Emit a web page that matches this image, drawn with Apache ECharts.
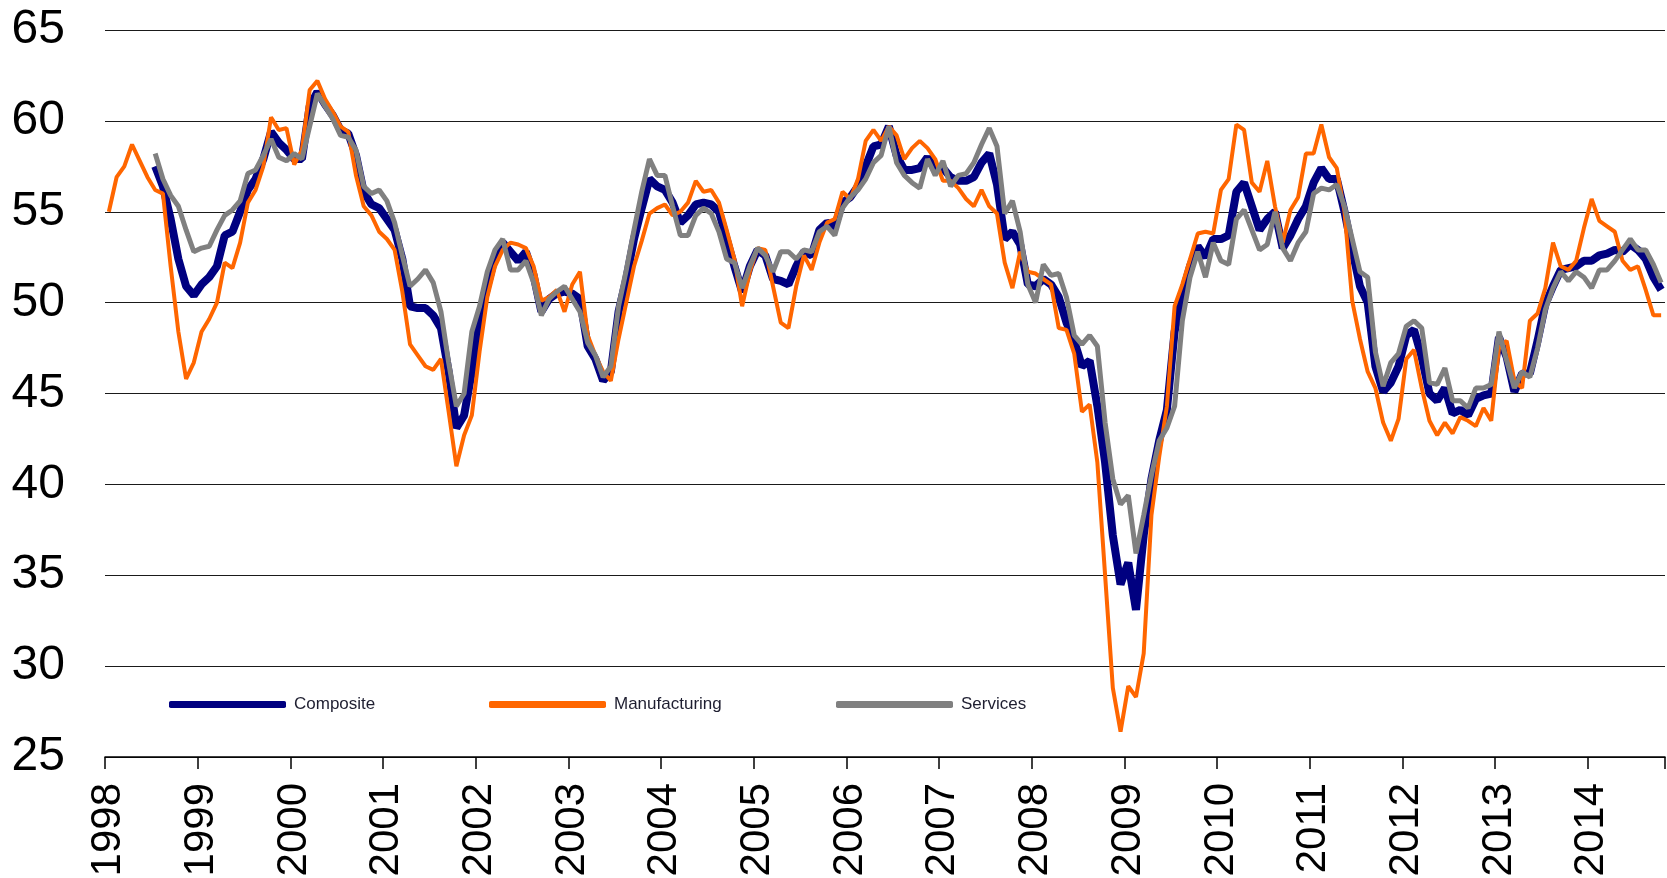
<!DOCTYPE html>
<html>
<head>
<meta charset="utf-8">
<title>PMI</title>
<script src="https://cdn.jsdelivr.net/npm/echarts@6/dist/echarts.min.js"></script>
<style>
  html, body { margin: 0; padding: 0; background: #fff; }
  #chart { width: 1667px; height: 878px; }
</style>
</head>
<body>
<div id="chart"></div>
<script>
// monthly, Jan 1998 .. Oct 2014
const startYear = 1998
const monthCount = 202
const months = []
for (let i = 0; i < monthCount; i++) {
  const y = startYear + Math.floor(i / 12)
  const m = (i % 12) + 1
  months.push(y + '-' + (m < 10 ? '0' + m : m))
}

const composite = [
  null, null, null, null, null, null,
  57.5, 56.4, 54.6, 52.4, 50.9, 50.4, 51.0, 51.4, 52.0, 53.7, 53.9, 55.0,
  56.2, 56.8, 57.9, 59.4, 58.8, 58.4, 57.9, 57.9, 60.8, 61.6, 60.9, 60.3,
  59.5, 59.3, 58.1, 56.1, 55.4, 55.2, 54.6, 54.0, 52.4, 49.8, 49.7, 49.7,
  49.3, 48.6, 46.2, 43.1, 43.8, 46.2, 49.1, 50.9, 52.5, 53.3, 52.8, 52.3,
  52.8, 51.5, 49.5, 50.2, 50.5, 50.6, 50.5, 50.2, 47.6, 46.9, 45.7, 46.2,
  49.5, 51.3, 53.5, 55.2, 56.8, 56.4, 56.2, 55.5, 54.4, 54.8, 55.4, 55.5,
  55.4, 55.0, 53.5, 52.0, 50.6, 52.0, 52.9, 52.6, 51.3, 51.2, 51.0, 52.0,
  52.8, 52.6, 54.0, 54.4, 54.2, 55.5, 55.8, 56.4, 57.5, 58.6, 58.7, 59.7,
  58.1, 57.3, 57.3, 57.4, 58.0, 57.3, 57.4, 56.9, 56.7, 56.7, 56.9, 57.7,
  58.2, 56.5, 53.5, 53.9, 53.2, 51.0, 50.9, 51.3, 51.0, 50.3, 48.9, 47.9,
  46.5, 46.8, 44.3, 41.2, 37.2, 34.5, 35.7, 33.1, 37.2, 40.3, 42.4, 44.1,
  48.4, 50.5, 52.0, 53.1, 52.5, 53.5, 53.5, 53.7, 56.1, 56.6, 55.3, 54.0,
  54.6, 55.0, 53.0, 53.7, 54.6, 55.3, 56.6, 57.4, 56.8, 56.8, 55.0, 52.9,
  50.9, 50.0, 46.5, 45.1, 45.6, 46.5, 48.2, 48.5, 47.0, 45.0, 44.6, 45.3,
  43.9, 44.1, 43.8, 44.7, 44.9, 45.0, 48.1, 47.0, 45.1, 46.1, 46.1, 47.9,
  49.9, 50.9, 51.8, 51.9, 52.0, 52.3, 52.3, 52.6, 52.7, 52.9, 52.8, 53.2,
  52.9, 52.4, 51.4, 50.7
]

const manufacturing = [
  55.0, 56.9, 57.5, 58.7, 57.8, 56.9, 56.2, 56.0, 52.0, 48.4, 45.8, 46.7,
  48.4, 49.1, 50.0, 52.2, 51.9, 53.3, 55.5, 56.2, 57.5, 60.2, 59.5, 59.6,
  57.6, 58.4, 61.7, 62.2, 61.2, 60.5, 59.7, 59.4, 57.0, 55.3, 54.8, 53.9,
  53.5, 52.9, 50.6, 47.7, 47.1, 46.5, 46.3, 46.9, 44.0, 41.0, 42.7, 43.8,
  47.3, 50.3, 52.0, 52.9, 53.3, 53.2, 53.0, 52.0, 50.1, 50.3, 50.7, 49.5,
  51.0, 51.7, 48.2, 47.1, 46.2, 45.7, 48.0, 50.0, 52.0, 53.4, 54.9, 55.2,
  55.4, 54.8, 55.0, 55.5, 56.7, 56.1, 56.2, 55.5, 54.0, 52.4, 49.8, 51.7,
  53.0, 52.9, 50.9, 48.9, 48.6, 50.9, 52.6, 51.8, 53.3, 54.4, 54.6, 56.1,
  55.7, 56.8, 58.9, 59.5, 58.9, 59.7, 59.2, 57.9, 58.5, 58.9, 58.5, 57.9,
  56.7, 56.7, 56.3, 55.7, 55.3, 56.2, 55.3, 54.9, 52.2, 50.8, 52.8, 51.7,
  51.6, 51.3, 51.0, 48.6, 48.5, 47.2, 44.0, 44.4, 41.2, 35.0, 28.8, 26.4,
  28.9, 28.3, 30.7, 38.3, 41.5, 44.3, 49.8, 51.0, 52.4, 53.8, 53.9, 53.8,
  56.2, 56.8, 59.8, 59.5, 56.6, 56.1, 57.8, 55.3, 53.3, 55.1, 55.8, 58.2,
  58.2, 59.8, 58.0, 57.4, 55.0, 50.1, 48.0, 46.2, 45.3, 43.4, 42.4, 43.6,
  46.9, 47.4, 45.3, 43.5, 42.7, 43.4, 42.8, 43.7, 43.5, 43.2, 44.2, 43.5,
  47.5, 47.9, 45.7, 45.3, 49.0, 49.4, 50.8, 53.3, 52.0, 51.8, 52.3, 54.1,
  55.7, 54.5, 54.2, 53.9, 52.3, 51.8, 52.0, 50.7, 49.3, 49.3
]

const services = [
  null, null, null, null, null, null,
  58.2, 56.8, 55.9, 55.3, 54.0, 52.8, 53.0, 53.1, 54.0, 54.8, 55.1, 55.6,
  57.1, 57.3, 58.1, 59.0, 58.0, 57.8, 58.2, 57.9, 59.7, 61.5, 60.8, 60.1,
  59.2, 59.1, 58.4, 56.4, 56.0, 56.2, 55.6, 54.4, 52.6, 50.9, 51.3, 51.8,
  51.1, 49.5, 46.7, 44.3, 45.0, 48.4, 49.8, 51.7, 52.9, 53.5, 51.8, 51.8,
  52.3, 51.1, 49.3, 50.2, 50.6, 50.9, 50.2, 49.5, 47.8, 47.1, 45.9, 46.5,
  49.8, 51.8, 54.0, 56.1, 57.9, 57.0, 57.0, 55.3, 53.7, 53.7, 54.8, 55.2,
  54.9, 53.9, 52.4, 52.2, 50.8, 52.0, 53.0, 52.6, 51.7, 52.8, 52.8, 52.4,
  52.9, 52.8, 53.9, 54.2, 53.7, 55.2, 55.8, 56.2, 56.8, 57.7, 58.1, 59.7,
  57.7, 57.0, 56.6, 56.3, 57.9, 57.0, 57.8, 56.4, 57.0, 57.1, 57.7, 58.7,
  59.6, 58.6, 54.9, 55.6, 53.9, 51.0, 50.0, 52.1, 51.5, 51.6, 50.3, 48.2,
  47.7, 48.2, 47.6, 43.4, 40.3, 38.9, 39.4, 36.2, 38.3, 40.5, 42.4, 43.1,
  44.3, 49.0, 51.4, 52.8, 51.4, 53.3, 52.3, 52.1, 54.6, 55.1, 54.0, 52.9,
  53.2, 55.0, 53.0, 52.3, 53.3, 53.9, 56.0, 56.3, 56.2, 56.5, 55.3, 53.5,
  51.7, 51.4, 47.3, 45.4, 46.7, 47.2, 48.7, 49.0, 48.6, 45.6, 45.5, 46.4,
  44.6, 44.6, 44.2, 45.3, 45.3, 45.5, 48.4, 46.8, 45.3, 46.2, 45.9, 47.5,
  49.6, 50.8, 51.7, 51.2, 51.7, 51.4, 50.8, 51.8, 51.8, 52.3, 52.9, 53.5,
  52.9, 52.9, 52.1, 51.1
]

const yTicks = { min: 25, max: 65, step: 5 }

const fontFamily = '"Liberation Sans", Arial, sans-serif'
const chart = echarts.init(document.getElementById('chart'))

function legendFor(name, left) {
  return {
    data: [name],
    left: left,
    top: 696,
    icon: 'roundRect',
    itemWidth: 117,
    itemHeight: 7,
    itemGap: 0,
    padding: 0,
    selectedMode: false,
    textStyle: { color: '#1e1e30', fontSize: 17, fontFamily: fontFamily, padding: [0, 0, 0, 3] },
  }
}

chart.setOption({
  animation: false,
  backgroundColor: '#fff',
  grid: { left: 105, right: 2, top: 30, bottom: 121, containLabel: false, outerBoundsMode: 'none' },
  legend: [
    legendFor('Composite', 169),
    legendFor('Manufacturing', 489),
    legendFor('Services', 836),
  ],
  xAxis: {
    type: 'category',
    data: months,
    boundaryGap: true,
    axisLine: { show: true, lineStyle: { color: '#000', width: 1.5 } },
    axisTick: { show: true, interval: 11, length: 12, inside: false, lineStyle: { color: '#000', width: 1.5 } },
    axisLabel: {
      interval: 11,
      rotate: 90,
      margin: 26,
      color: '#000',
      fontSize: 42,
      fontFamily: fontFamily,
      formatter: v => v.slice(0, 4),
    },
    splitLine: { show: false },
  },
  yAxis: {
    type: 'value',
    min: yTicks.min,
    max: yTicks.max,
    interval: yTicks.step,
    axisLine: { show: false },
    axisTick: { show: false },
    axisLabel: { color: '#000', fontSize: 48, fontFamily: fontFamily, margin: 40 },
    splitLine: { lineStyle: { color: '#1a1a1a', width: 1.2 } },
  },
  series: [
    {
      name: 'Composite',
      type: 'line',
      data: composite,
      showSymbol: false,
      symbol: 'none',
      color: '#000080',
      lineStyle: { width: 8, color: '#000080' },
      z: 2,
    },
    {
      name: 'Manufacturing',
      type: 'line',
      data: manufacturing,
      showSymbol: false,
      symbol: 'none',
      color: '#ff6600',
      lineStyle: { width: 4, color: '#ff6600' },
      z: 3,
    },
    {
      name: 'Services',
      type: 'line',
      data: services,
      showSymbol: false,
      symbol: 'none',
      color: '#808080',
      lineStyle: { width: 5, color: '#808080' },
      z: 4,
    },
  ],
})
</script>
</body>
</html>
